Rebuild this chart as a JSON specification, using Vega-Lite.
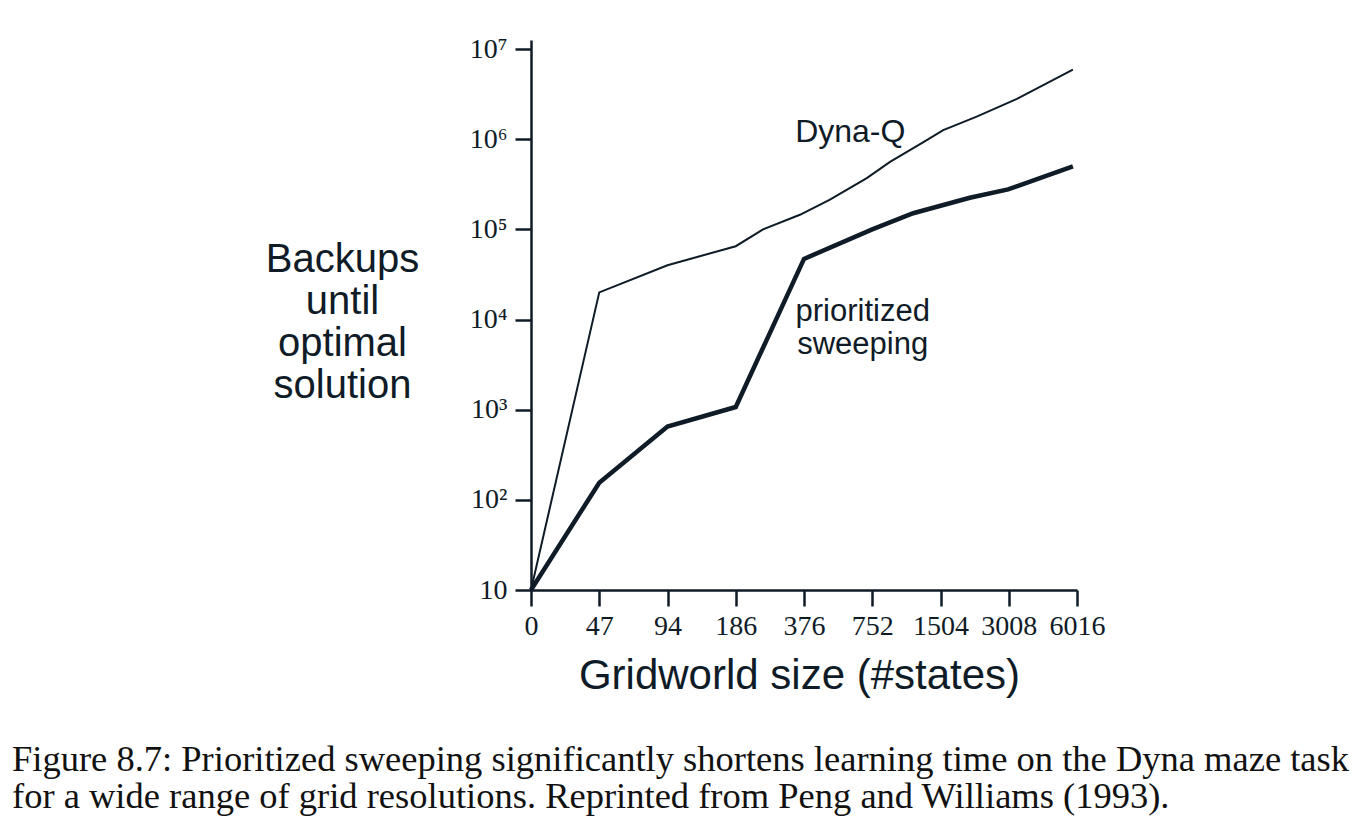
{
  "$schema": "https://vega.github.io/schema/vega-lite/v6.json",
  "width": 546,
  "height": 550,
  "autosize": "none",
  "padding": {"left": 531, "top": 40, "right": 293, "bottom": 248},
  "background": "white",
  "config": {
    "view": {"stroke": null},
    "axis": {
      "domainColor": "#0f1b27", "tickColor": "#0f1b27", "labelColor": "#0f1b27", "titleColor": "#0f1b27",
      "grid": false, "domainWidth": 2.5, "tickWidth": 2.5, "tickSize": 16,
      "labelFont": "Liberation Serif", "labelFontSize": 28,
      "titleFont": "Liberation Sans", "titleFontWeight": "normal"
    }
  },
  "title": {
    "text": ["Figure 8.7: Prioritized sweeping significantly shortens learning time on the Dyna maze task", "for a wide range of grid resolutions. Reprinted from Peng and Williams (1993)."],
    "orient": "bottom", "anchor": "start", "frame": "group", "dx": -519, "offset": 46,
    "font": "Liberation Serif", "fontSize": 36.5, "fontWeight": "normal", "lineHeight": 37, "color": "#111111"
  },
  "datasets": {
    "curves": [
      {"step": 0, "backups": 10, "series": "Dyna-Q"},
      {"step": 1, "backups": 20000, "series": "Dyna-Q"},
      {"step": 2, "backups": 40000, "series": "Dyna-Q"},
      {"step": 3, "backups": 65000, "series": "Dyna-Q"},
      {"step": 3.4, "backups": 100000, "series": "Dyna-Q"},
      {"step": 3.94, "backups": 145000, "series": "Dyna-Q"},
      {"step": 4.38, "backups": 214000, "series": "Dyna-Q"},
      {"step": 4.92, "backups": 370000, "series": "Dyna-Q"},
      {"step": 5.26, "backups": 560000, "series": "Dyna-Q"},
      {"step": 5.75, "backups": 930000, "series": "Dyna-Q"},
      {"step": 6.04, "backups": 1260000, "series": "Dyna-Q"},
      {"step": 6.53, "backups": 1780000, "series": "Dyna-Q"},
      {"step": 7.12, "backups": 2800000, "series": "Dyna-Q"},
      {"step": 7.94, "backups": 5900000, "series": "Dyna-Q"},
      {"step": 0, "backups": 10, "series": "prioritized sweeping"},
      {"step": 1, "backups": 155, "series": "prioritized sweeping"},
      {"step": 2, "backups": 650, "series": "prioritized sweeping"},
      {"step": 3, "backups": 1070, "series": "prioritized sweeping"},
      {"step": 4, "backups": 47000, "series": "prioritized sweeping"},
      {"step": 5, "backups": 100000, "series": "prioritized sweeping"},
      {"step": 5.6, "backups": 151000, "series": "prioritized sweeping"},
      {"step": 6.43, "backups": 224000, "series": "prioritized sweeping"},
      {"step": 6.99, "backups": 277000, "series": "prioritized sweeping"},
      {"step": 7.94, "backups": 500000, "series": "prioritized sweeping"}
    ],
    "labels": [
      {"step": 3.87, "backups": 937000, "label": "Dyna-Q"},
      {"step": 4.86, "backups": 9600, "label": "prioritized\nsweeping"}
    ]
  },
  "layer": [
    {
      "data": {"name": "curves"},
      "mark": {"type": "line", "color": "#0f1b27", "strokeJoin": "miter"},
      "encoding": {
        "x": {
          "field": "step", "type": "quantitative",
          "scale": {"domain": [0, 8], "nice": false, "zero": false},
          "axis": {
            "values": [0, 1, 2, 3, 4, 5, 6, 7, 8],
            "labelExpr": "['0','47','94','186','376','752','1504','3008','6016'][datum.value]",
            "labelPadding": 6, "labelFlush": false, "labelOverlap": false,
            "title": "Gridworld size (#states)", "titleFontSize": 42,
            "titleX": 268, "titleY": 98, "titleAlign": "center", "titleBaseline": "alphabetic"
          }
        },
        "y": {
          "field": "backups", "type": "quantitative",
          "scale": {"type": "log", "domain": [10, 12589254], "nice": false},
          "axis": {
            "values": [10, 100, 1000, 10000, 100000, 1000000, 10000000],
            "labelExpr": "datum.value == 10 ? '10' : '10' + ['','','²','³','⁴','⁵','⁶','⁷'][round(log(datum.value)/LN10)]",
            "labelPadding": 8, "labelOverlap": false, "labelFlush": false,
            "title": ["Backups", "until", "optimal", "solution"],
            "titleAngle": 0, "titleX": -189, "titleY": 231, "titleAlign": "center",
            "titleBaseline": "alphabetic", "titleFontSize": 40, "titleLineHeight": 42
          }
        },
        "detail": {"field": "series", "type": "nominal"},
        "strokeWidth": {
          "field": "series", "type": "nominal",
          "scale": {"domain": ["Dyna-Q", "prioritized sweeping"], "range": [2, 4.5]},
          "legend": null
        }
      }
    },
    {
      "data": {"name": "labels"},
      "transform": [{"filter": "datum.label == 'Dyna-Q'"}],
      "mark": {"type": "text", "align": "left", "baseline": "alphabetic", "font": "Liberation Sans", "fontSize": 32, "color": "#0f1b27"},
      "encoding": {
        "x": {"field": "step", "type": "quantitative"},
        "y": {"field": "backups", "type": "quantitative"},
        "text": {"field": "label", "type": "nominal"}
      }
    },
    {
      "data": {"name": "labels"},
      "transform": [{"filter": "datum.label != 'Dyna-Q'"}],
      "mark": {"type": "text", "align": "center", "baseline": "alphabetic", "font": "Liberation Sans", "fontSize": 31, "lineHeight": 33, "lineBreak": "\n", "color": "#0f1b27"},
      "encoding": {
        "x": {"field": "step", "type": "quantitative"},
        "y": {"field": "backups", "type": "quantitative"},
        "text": {"field": "label", "type": "nominal"}
      }
    }
  ]
}
